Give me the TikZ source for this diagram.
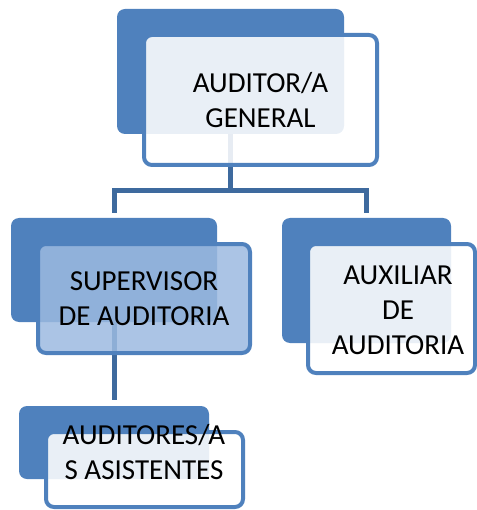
\documentclass[tikz,border=0pt]{standalone}
\usepackage{fontspec}
\setmainfont{Carlito}
\definecolor{boxBlue}{HTML}{4F81BD}
\definecolor{lineBlue}{HTML}{3E6A9E}
\definecolor{midFill}{HTML}{9CBAE0}
\usetikzlibrary{positioning}

\begin{document}
\begin{tikzpicture}[
    x=1pt, y=-1pt,
    backbox/.style={rectangle, fill=boxBlue, rounded corners=8pt, inner sep=0pt},
    frontbox/.style={rectangle, draw=boxBlue, line width=4pt, fill=white, fill opacity=0.88,
                     text opacity=1, rounded corners=8pt, inner sep=0pt, align=center,
                     font=\fontsize{29}{35}\selectfont},
    link/.style={draw=lineBlue, line width=5pt},
    label/.style={align=center, font=\fontsize{29}{35}\selectfont}
  ]
    \useasboundingbox (0,0) rectangle (476,510);
    % back panels
    \node[backbox, minimum width=227pt, minimum height=125pt] (gen_back) at (230.5,71.5) {};
    \node[backbox, minimum width=206pt, minimum height=104pt] (sup_back) at (114,270) {};
    \node[backbox, minimum width=169pt, minimum height=125pt] (aux_back) at (366.5,280.5) {};
    \node[backbox, minimum width=190pt, minimum height=73pt] (asi_back) at (114,442.5) {};
    % connectors
    \draw[link, shorten >=5pt] (gen_back.south) -- ++(0,56) -| (sup_back.north);
    \draw[link, shorten >=5pt] (gen_back.south) -- ++(0,56) -| (aux_back.north);
    \draw[link, shorten >=6pt] (sup_back.south) -- (asi_back.north);
    % front panels
    \node[frontbox, minimum width=233pt, minimum height=130pt] (gen) at (260.5,100) {AUDITOR/A\\GENERAL};
    \node[frontbox, fill=midFill, fill opacity=0.85, minimum width=212pt, minimum height=109pt] (sup) at (144,298.5) {SUPERVISOR\\DE AUDITORIA};
    \node[frontbox, minimum width=167pt, minimum height=129pt] (aux) at (391.5,308.5) {};
    \node[frontbox, minimum width=197pt, minimum height=75pt] (asi) at (144.5,469.5) {};
    \node[label] (aux_txt) at (398,310) {AUXILIAR\\DE\\AUDITORIA};
    \node[label] (asi_txt) at (144,452) {AUDITORES/A\\S ASISTENTES};
\end{tikzpicture}
\end{document}
